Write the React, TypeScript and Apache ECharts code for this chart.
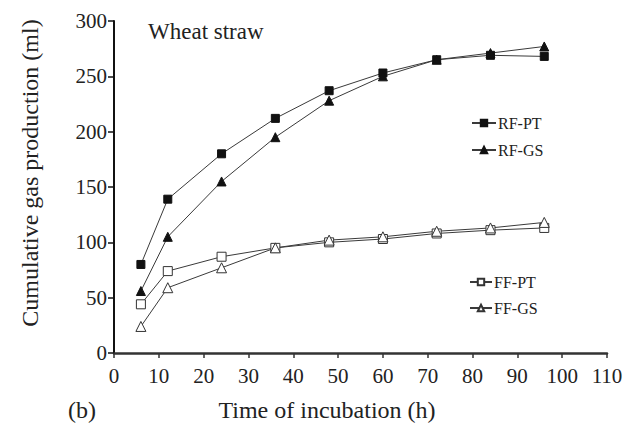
import React, { useEffect, useRef } from "react";
import * as echarts from "echarts";

const hours = [6, 12, 24, 36, 48, 60, 72, 84, 96];
const rfPT = [80, 139, 180, 212, 237, 253, 265, 269, 268];
const rfGS = [56, 105, 155, 195, 228, 250, 265, 271, 277];
const ffPT = [44, 74, 87, 95, 100, 103, 108, 111, 113];
const ffGS = [24, 59, 77, 95, 102, 105, 110, 113, 118];

const FONT = "'Liberation Serif', 'Times New Roman', serif";
const TXT = "#222";
const LINE = "#3a3a3a";

const pair = (ys: number[]) => hours.map((h, i) => [h, ys[i]]);

export default function App() {
  const ref = useRef<HTMLDivElement>(null);
  useEffect(() => {
    if (!ref.current) return;
    const chart = echarts.init(ref.current, null, { renderer: "svg" });
    const mk = (name: string, ys: number[], symbol: string, size: number, filled: boolean) => ({
      name,
      type: "line",
      data: pair(ys),
      symbol,
      symbolSize: size,
      showAllSymbol: true,
      lineStyle: { color: LINE, width: 1 },
      itemStyle: filled
        ? { color: "#111", borderColor: "#111", borderWidth: 1 }
        : { color: "#fff", borderColor: "#333", borderWidth: 1 },
      emphasis: { disabled: true },
      z: filled ? 3 : 2,
    });
    chart.setOption({
      animation: false,
      backgroundColor: "#fff",
      textStyle: { fontFamily: FONT },
      grid: { left: 114, right: 30, top: 21, bottom: 78 },
      xAxis: {
        type: "value",
        min: 0,
        max: 110,
        interval: 10,
        splitLine: { show: false },
        axisLine: { lineStyle: { color: "#333", width: 2.5 } },
        axisTick: { length: 5, lineStyle: { color: "#333", width: 1.5 } },
        axisLabel: { color: TXT, fontSize: 21, fontFamily: FONT, margin: 12 },
      },
      yAxis: {
        type: "value",
        min: 0,
        max: 300,
        interval: 50,
        splitLine: { show: false },
        axisLine: { show: true, lineStyle: { color: "#111", width: 2 } },
        axisTick: { show: true, length: 6, lineStyle: { color: "#111", width: 1.5 } },
        axisLabel: { color: TXT, fontSize: 21, fontFamily: FONT, margin: 7 },
      },
      legend: [
        {
          data: ["RF-PT", "RF-GS"],
          orient: "vertical",
          left: 466,
          top: 110,
          itemWidth: 24,
          itemHeight: 8,
          itemGap: 11,
          textStyle: { color: TXT, fontSize: 16, fontFamily: FONT, padding: [0, 0, 0, -3] },
          selectedMode: false,
        },
        {
          data: ["FF-PT", "FF-GS"],
          orient: "vertical",
          left: 464,
          top: 269,
          itemWidth: 22,
          itemHeight: 8,
          itemGap: 10,
          textStyle: { color: TXT, fontSize: 16, fontFamily: FONT, padding: [0, 0, 0, -3] },
          selectedMode: false,
        },
      ],
      graphic: [
        {
          type: "text",
          left: 148,
          top: 20,
          style: { text: "Wheat straw", fontSize: 23, fontFamily: FONT, fill: TXT },
        },
        {
          type: "text",
          x: 327,
          y: 410,
          style: {
            text: "Time of incubation (h)",
            fontSize: 24,
            fontFamily: FONT,
            fill: TXT,
            align: "center",
            verticalAlign: "middle",
          },
        },
        {
          type: "text",
          x: 68,
          y: 410,
          style: { text: "(b)", fontSize: 24, fontFamily: FONT, fill: TXT, verticalAlign: "middle" },
        },
        {
          type: "text",
          x: 30,
          y: 173,
          rotation: Math.PI / 2,
          style: {
            text: "Cumulative gas production (ml)",
            fontSize: 24,
            fontFamily: FONT,
            fill: TXT,
            align: "center",
            verticalAlign: "middle",
          },
        },
      ],
      series: [
        mk("RF-PT", rfPT, "rect", 8, true),
        mk("RF-GS", rfGS, "triangle", 9, true),
        mk("FF-PT", ffPT, "rect", 9, false),
        mk("FF-GS", ffGS, "triangle", 10, false),
      ],
    });
    return () => chart.dispose();
  }, []);
  return <div ref={ref} style={{ width: 637, height: 431, position: "absolute", left: 0, top: 0 }} />;
}
